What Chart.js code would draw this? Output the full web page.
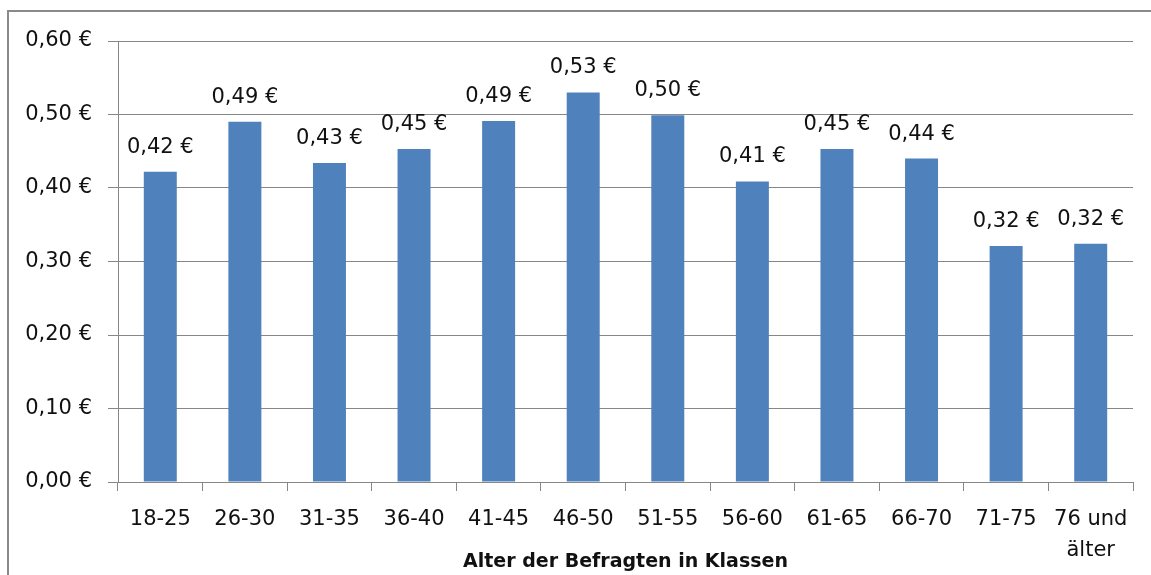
<!DOCTYPE html>
<html lang="de">
<head>
<meta charset="utf-8">
<script src="https://cdn.jsdelivr.net/npm/chart.js@4/dist/chart.umd.min.js"></script>
<style>
  html, body { margin: 0; padding: 0; background: #fff; }
  #wrap { position: relative; width: 1151px; height: 575px; overflow: hidden; }
  #frame { position: absolute; left: 7px; top: 10px; right: -10px; bottom: -10px; border-left: 2px solid #8a8a8a; border-top: 2px solid #8a8a8a; }
  canvas { position: absolute; left: 0; top: 0; }
</style>
</head>
<body>
<div id="wrap">
  <div id="frame"></div>
  <canvas id="chart" width="1151" height="575"></canvas>
</div>
<script>
// Durchschnittlicher Betrag je Altersklasse
const AGE_CLASSES = ['18-25', '26-30', '31-35', '36-40', '41-45', '46-50', '51-55', '56-60', '61-65', '66-70', '71-75', ['76 und', 'älter']];
const AMOUNTS = [0.422, 0.490, 0.434, 0.453, 0.491, 0.530, 0.499, 0.409, 0.453, 0.440, 0.321, 0.324];
const Y_TICKS = [0, 0.1, 0.2, 0.3, 0.4, 0.5, 0.6];
const X_TITLE = 'Alter der Befragten in Klassen';

const FONT = 'DejaVu Sans';
const TEXT = '#111';
const GRID = '#878787';
const BAR = '#4F81BD';

const euro = (v) => v.toFixed(2).replace('.', ',') + ' €';

// Wertbeschriftung über den Balken
const valueLabels = {
  id: 'valueLabels',
  afterDatasetsDraw(chart) {
    const { ctx } = chart;
    const meta = chart.getDatasetMeta(0);
    ctx.save();
    ctx.font = `21px "${FONT}"`;
    ctx.fillStyle = TEXT;
    ctx.textAlign = 'center';
    ctx.textBaseline = 'alphabetic';
    meta.data.forEach((bar, i) => {
      ctx.fillText(euro(AMOUNTS[i]), bar.x, bar.y - 19);
    });
    ctx.restore();
  },
};

new Chart(document.getElementById('chart'), {
  type: 'bar',
  data: {
    labels: AGE_CLASSES,
    datasets: [{ data: AMOUNTS, backgroundColor: BAR, borderWidth: 0, categoryPercentage: 1, barPercentage: 0.39 }],
  },
  options: {
    responsive: false,
    animation: false,
    layout: { padding: { top: 41, right: 18, left: 0, bottom: 0 } },
    plugins: { legend: { display: false }, tooltip: { enabled: false } },
    scales: {
      x: {
        grid: { display: true, drawOnChartArea: false, color: GRID, tickLength: 9, offset: true },
        border: { color: GRID },
        ticks: { color: TEXT, font: { family: FONT, size: 21, lineHeight: 1.48 }, padding: 13, maxRotation: 0, autoSkip: false },
        title: { display: true, text: X_TITLE, color: TEXT, font: { family: FONT, size: 19, weight: 'bold' }, padding: { top: 0, bottom: 2 } },
        afterFit: (s) => { s.height = 93; },
      },
      y: {
        min: 0,
        max: 0.6,
        afterBuildTicks: (s) => { s.ticks = Y_TICKS.map((v) => ({ value: v })); },
        grid: { color: GRID, tickLength: 10 },
        border: { color: GRID },
        ticks: { color: TEXT, font: { family: FONT, size: 21 }, padding: 16, callback: (v) => euro(v) },
        afterFit: (s) => { s.width = 118; },
      },
    },
  },
  plugins: [valueLabels],
});
</script>
</body>
</html>
